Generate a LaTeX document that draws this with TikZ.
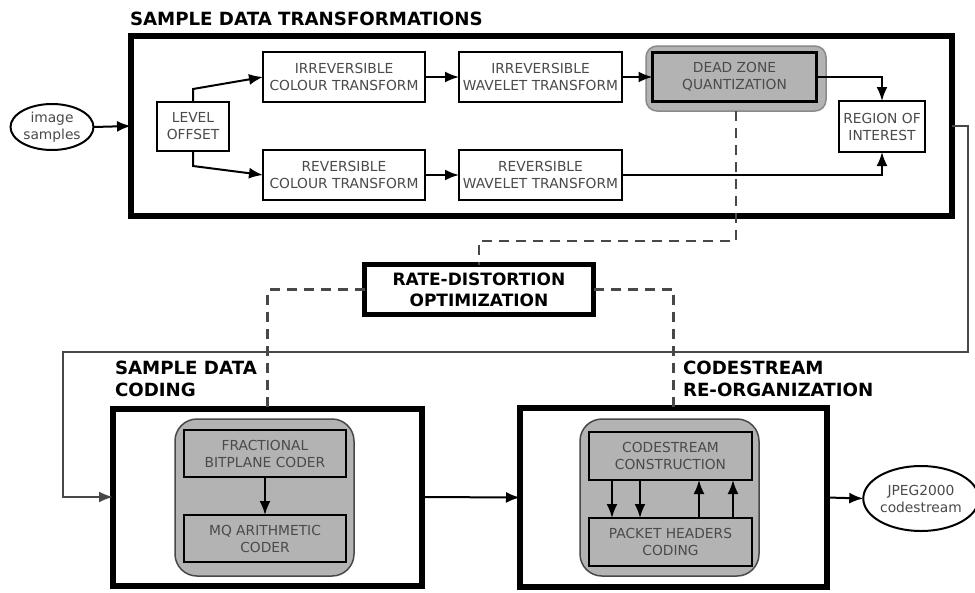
\documentclass[tikz,border=0pt]{standalone}
\usepackage{fontspec}
\setmainfont{DejaVu Sans}
\usetikzlibrary{arrows.meta,shapes.geometric}
\definecolor{boxgray}{HTML}{B3B3B3}
\definecolor{halo}{HTML}{8A8A8A}
\definecolor{boxtext}{HTML}{4A4A4A}
\definecolor{linegray}{HTML}{484848}

\begin{document}
\begin{tikzpicture}[x=1pt,y=-1pt,
  every node/.style={inner sep=0pt, outer sep=0pt},
  lbl/.style={font=\fontsize{13.8}{17}\selectfont, text=boxtext, align=center},
  heading/.style={font=\fontsize{18.2}{21.5}\selectfont\bfseries, text=black, align=left},
  plainbox/.style={lbl, draw, line width=2pt, fill=white},
  graybox/.style={lbl, draw, line width=2pt, fill=boxgray},
  stagebox/.style={draw, line width=6pt, fill=white},
  groupbox/.style={draw=linegray, line width=1.5pt, fill=boxgray, rounded corners=22pt},
  oval/.style={lbl, ellipse, draw, line width=2pt, fill=white},
  conn/.style={line width=2pt, -{Latex[length=14pt,width=11pt]}},
  loopline/.style={line width=1.8pt, draw=linegray, -{Latex[length=14pt,width=11pt]}},
  rd/.style={line width=2.5pt, draw=linegray, dash pattern=on 10pt off 7pt}
]
\useasboundingbox (0,0) rectangle (975,592);

% ---- sample data transformations ----
\node[heading, anchor=base west] (t1) at (130,25) {SAMPLE DATA TRANSFORMATIONS};
\node[stagebox, minimum width=821pt, minimum height=180pt] (big) at (541.5,126) {};

\node[oval, minimum width=83pt, minimum height=46pt] (is) at (52,127) {image\\samples};
\node[plainbox, minimum width=72pt, minimum height=49pt] (lo) at (193,126.5) {LEVEL\\OFFSET};

\node[plainbox, minimum width=162pt, minimum height=50pt] (ict) at (344,77) {IRREVERSIBLE\\COLOUR TRANSFORM};
\node[plainbox, minimum width=162pt, minimum height=50pt] (rct) at (344,175) {REVERSIBLE\\COLOUR TRANSFORM};
\node[plainbox, minimum width=163pt, minimum height=50pt] (iwt) at (540.5,77) {IRREVERSIBLE\\WAVELET TRANSFORM};
\node[plainbox, minimum width=163pt, minimum height=50pt] (rwt) at (540.5,175) {REVERSIBLE\\WAVELET TRANSFORM};

\node[draw=halo, line width=1.5pt, fill=boxgray, rounded corners=11pt,
      minimum width=180pt, minimum height=65pt] (dzqh) at (736,78.5) {};
\node[lbl, draw, line width=3.5pt, fill=boxgray, minimum width=164pt, minimum height=49pt] (dzq) at (734.5,77) {DEAD ZONE\\QUANTIZATION};

\node[plainbox, minimum width=86pt, minimum height=51pt] (roi) at (882,126.5) {REGION OF\\INTEREST};

\draw[conn] (is.east) -- (big.west);
\draw[conn] (lo.north) -- ++(0,-13) -- (ict.west);
\draw[conn] (lo.south) -- ++(0,15) -- (rct.west);
\draw[conn] (ict.east) -- (iwt.west);
\draw[conn] (rct.east) -- (rwt.west);
\draw[conn] (iwt.east) -- (dzq.west);
\draw[conn] (dzq.east) -| (roi.north);
\draw[conn] (rwt.east) -| (roi.south);

% ---- rate-distortion optimization ----
\node[font=\fontsize{17}{21}\selectfont\bfseries, align=center, draw, line width=5pt, fill=white,
      minimum width=229pt, minimum height=50pt] (rdo) at (479,289.5) {RATE-DISTORTION\\OPTIMIZATION};

% ---- sample data coding ----
\node[heading, anchor=north west] (t2) at (115,361) {SAMPLE DATA\\CODING};
\node[stagebox, minimum width=309pt, minimum height=177pt] (sdc) at (267.5,497) {};
\node[groupbox, minimum width=179pt, minimum height=157pt] (sdcg) at (264.5,497.5) {};
\node[graybox, minimum width=162pt, minimum height=47pt] (fbc) at (265,453.5) {FRACTIONAL\\BITPLANE CODER};
\node[graybox, minimum width=162pt, minimum height=47pt] (mq) at (265,538.5) {MQ ARITHMETIC\\CODER};
\draw[conn] (fbc.south) -- (mq.north);

% ---- codestream re-organization ----
\node[heading, anchor=north west] (t3) at (683,361) {CODESTREAM\\RE-ORGANIZATION};
\node[stagebox, minimum width=307pt, minimum height=179pt] (cro) at (673.5,497.5) {};
\node[groupbox, minimum width=179pt, minimum height=157pt] (crog) at (669.5,497.5) {};
\node[graybox, minimum width=163pt, minimum height=48pt] (cc) at (670.5,456) {CODESTREAM\\CONSTRUCTION};
\node[graybox, minimum width=163pt, minimum height=48pt] (phc) at (670.5,542) {PACKET HEADERS\\CODING};
\draw[conn] ([xshift=-58.5pt]cc.south) -- ([xshift=-58.5pt]phc.north);
\draw[conn] ([xshift=-30.5pt]cc.south) -- ([xshift=-30.5pt]phc.north);
\draw[conn] ([xshift=28.5pt]phc.north) -- ([xshift=28.5pt]cc.south);
\draw[conn] ([xshift=62.5pt]phc.north) -- ([xshift=62.5pt]cc.south);

\node[oval, minimum width=96pt, minimum height=65pt] (jp) at (921,498.5) {JPEG2000\\codestream};

% ---- connections between stages ----
\coordinate (c1) at (968,352);
\coordinate (c2) at (63,352);
\draw[loopline] (big.east) -| (c1) -- (c2) |- (sdc.west);
\draw[conn] (sdc.east) -- (cro.west);
\draw[conn] (cro.east) -- (jp.west);

% rate-distortion control paths
\draw[rd] (dzqh.south) -- ++(0,130) -| (rdo.north);
\draw[rd] (rdo.west) -| (sdc.north);
\draw[rd] (rdo.east) -| (cro.north);
\end{tikzpicture}
\end{document}
